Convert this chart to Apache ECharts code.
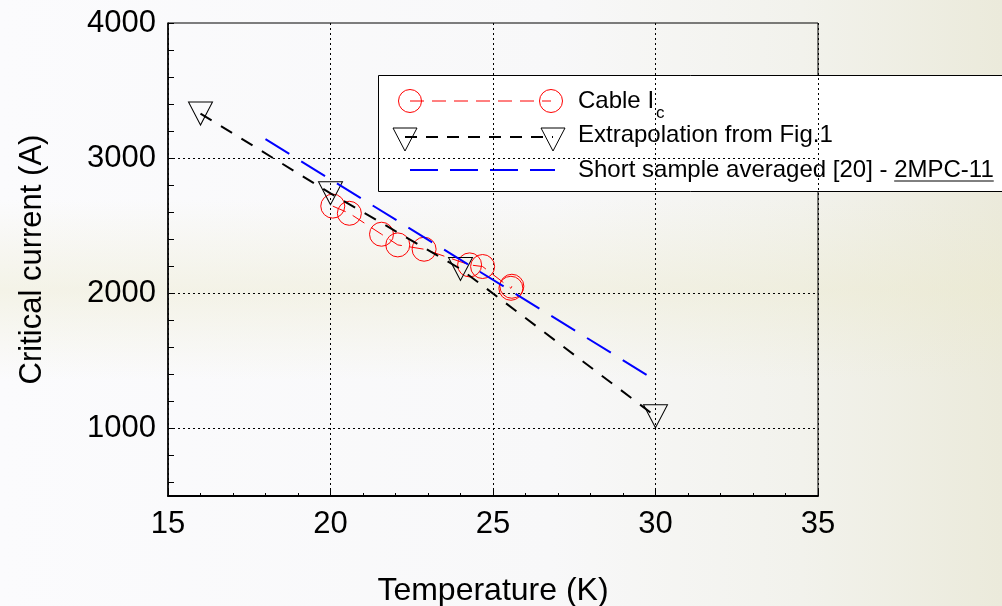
<!DOCTYPE html>
<html>
<head>
<meta charset="utf-8">
<script src="https://cdn.jsdelivr.net/npm/echarts@6/dist/echarts.min.js"></script>
<style>
  html, body { margin: 0; padding: 0; }
  #chart { width: 1002px; height: 606px; }
</style>
</head>
<body>
<div id="chart"></div>
<script>
// Cable Ic measured points
const cableT = [20.07, 20.58, 21.57, 22.07, 22.88, 24.28, 24.68, 25.55, 25.58];
const cableIc = [2645, 2592, 2437, 2358, 2326, 2210, 2198, 2037, 2052];
// Extrapolation from Fig.1
const extrapT = [16, 20, 24, 30];
const extrapIc = [3330, 2740, 2180, 1090];
// Short sample averaged [20] - 2MPC-11
const shortT = [18, 30];
const shortIc = [3140, 1356];

const yLabels = [1000, 2000, 3000, 4000];
const yTicks = [600, 800, 1000, 1200, 1400, 1600, 1800, 2000, 2200, 2400, 2600, 2800,
  3000, 3200, 3400, 3600, 3800, 4000];
const yGrid = [1000, 2000, 3000];

const FONT = '"Liberation Sans", Arial, sans-serif';

function textWidth(str, size) {
  const ctx = document.createElement('canvas').getContext('2d');
  ctx.font = size + 'px ' + FONT;
  return ctx.measureText(str).width;
}

const chart = echarts.init(document.getElementById('chart'));

const lgFont = 24;
const lgX = 578;
const shortPrefix = 'Short sample averaged [20] - ';
const prefW = textWidth(shortPrefix, lgFont);
const underW = textWidth('2MPC-11', lgFont);
const icW = textWidth('Cable I', lgFont);

const triShape = (cx, cy) => ({
  type: 'polygon',
  shape: { points: [[cx - 12, cy - 11], [cx + 12, cy - 11], [cx, cy + 12]] },
  style: { fill: 'none', stroke: '#000', lineWidth: 1 },
});

const option = {
  backgroundColor: new echarts.graphic.LinearGradient(0, 0, 1, 0, [
    { offset: 0, color: '#fbfbfd' },
    { offset: 0.55, color: '#f8f8f9' },
    { offset: 0.8, color: '#f2f2ec' },
    { offset: 1, color: '#ebeadb' },
  ]),
  animation: false,
  grid: {
    left: 168, right: 184, top: 23, bottom: 110,
    show: true, borderColor: '#000', borderWidth: 1,
    backgroundColor: 'transparent',
    outerBoundsMode: 'none',
  },
  xAxis: {
    type: 'value',
    min: 15, max: 35, interval: 5,
    name: 'Temperature (K)',
    nameLocation: 'middle',
    nameGap: 79,
    nameTextStyle: { fontFamily: FONT, fontSize: 32, color: '#000' },
    axisLine: { lineStyle: { color: '#000', width: 2 } },
    axisTick: { inside: true, length: 6, lineStyle: { color: '#000' } },
    minorTick: { show: true, splitNumber: 5, length: 3, lineStyle: { color: '#000' } },
    axisLabel: { fontFamily: FONT, fontSize: 31, color: '#000', margin: 13 },
    splitLine: { show: true, lineStyle: { color: '#000', type: [2, 3], width: 1 } },
  },
  yAxis: {
    type: 'value',
    min: 500, max: 4000,
    name: 'Critical current (A)',
    nameLocation: 'middle',
    nameGap: 120,
    nameTextStyle: { fontFamily: FONT, fontSize: 31, color: '#000' },
    axisLine: { show: true, lineStyle: { color: '#000', width: 1.5 } },
    axisTick: { show: true, inside: true, length: 6, customValues: yTicks, lineStyle: { color: '#000' } },
    axisLabel: {
      fontFamily: FONT, fontSize: 31, color: '#000', margin: 12,
      customValues: yLabels,
      formatter: (v) => String(v),
    },
    splitLine: { show: false },
  },
  series: [
    {
      name: 'Cable Ic',
      type: 'line',
      data: cableT.map((t, i) => [t, cableIc[i]]),
      symbol: 'circle',
      symbolSize: 24,
      itemStyle: { color: 'rgba(0,0,0,0)', borderColor: '#ff0000', borderWidth: 1 },
      lineStyle: { color: '#ff0000', width: 1, type: [14, 8] },
      z: 3,
      markLine: {
        silent: true,
        symbol: 'none',
        label: { show: false },
        lineStyle: { color: '#000', type: [2, 3], width: 1 },
        data: yGrid.map((v) => ({ yAxis: v })),
        animation: false,
      },
    },
    {
      name: 'Extrapolation from Fig.1',
      type: 'line',
      data: extrapT.map((t, i) => [t, extrapIc[i]]),
      symbol: 'triangle',
      symbolRotate: 180,
      symbolSize: [24, 23],
      itemStyle: { color: 'rgba(0,0,0,0)', borderColor: '#000', borderWidth: 1 },
      lineStyle: { color: '#000', width: 2, type: [13, 11] },
      z: 4,
    },
    {
      name: 'Short sample averaged [20] - 2MPC-11',
      type: 'line',
      data: shortT.map((t, i) => [t, shortIc[i]]),
      symbol: 'none',
      lineStyle: { color: '#0000ff', width: 2, type: [28, 14] },
      z: 5,
    },
  ],
  graphic: [
    {
      type: 'rect', z: -10, silent: true,
      shape: { x: 0, y: 200, width: 1002, height: 180 },
      style: {
        fill: new echarts.graphic.LinearGradient(0, 0, 0, 1, [
          { offset: 0, color: 'rgba(235,233,205,0)' },
          { offset: 0.5, color: 'rgba(235,233,205,0.45)' },
          { offset: 1, color: 'rgba(235,233,205,0)' },
        ]),
      },
    },
    {
      type: 'group', z: 100,
      children: [
        { type: 'rect', shape: { x: 378.5, y: 75.5, width: 700, height: 116 },
          style: { fill: '#fff', stroke: '#000', lineWidth: 1 } },
        // Cable Ic
        { type: 'line', shape: { x1: 410, y1: 101, x2: 551, y2: 101 },
          style: { stroke: '#ff0000', lineWidth: 1, lineDash: [14, 8] } },
        { type: 'circle', shape: { cx: 410, cy: 101, r: 11.5 },
          style: { fill: 'none', stroke: '#ff0000', lineWidth: 1 } },
        { type: 'circle', shape: { cx: 551, cy: 101, r: 11.5 },
          style: { fill: 'none', stroke: '#ff0000', lineWidth: 1 } },
        { type: 'text', x: lgX, y: 101,
          style: { text: 'Cable I', font: lgFont + 'px ' + FONT, fill: '#000', verticalAlign: 'middle' } },
        { type: 'text', x: lgX + icW + 2, y: 113,
          style: { text: 'c', font: '17px ' + FONT, fill: '#000', verticalAlign: 'middle' } },
        // Extrapolation
        { type: 'line', shape: { x1: 405, y1: 137, x2: 553, y2: 137 },
          style: { stroke: '#000', lineWidth: 2, lineDash: [12, 9] } },
        triShape(405, 139),
        triShape(553, 139),
        { type: 'text', x: lgX, y: 135,
          style: { text: 'Extrapolation from Fig.1', font: lgFont + 'px ' + FONT, fill: '#000', verticalAlign: 'middle' } },
        // Short sample
        { type: 'line', shape: { x1: 410, y1: 170, x2: 555, y2: 170 },
          style: { stroke: '#0000ff', lineWidth: 2, lineDash: [28, 12] } },
        { type: 'text', x: lgX, y: 170,
          style: { text: shortPrefix + '2MPC-11', font: lgFont + 'px ' + FONT, fill: '#000', verticalAlign: 'middle' } },
        { type: 'line', shape: { x1: lgX + prefW, y1: 181, x2: lgX + prefW + underW, y2: 181 },
          style: { stroke: '#000', lineWidth: 1 } },
      ],
    },
  ],
};

chart.setOption(option);
window.addEventListener('resize', () => chart.resize());
</script>
</body>
</html>
